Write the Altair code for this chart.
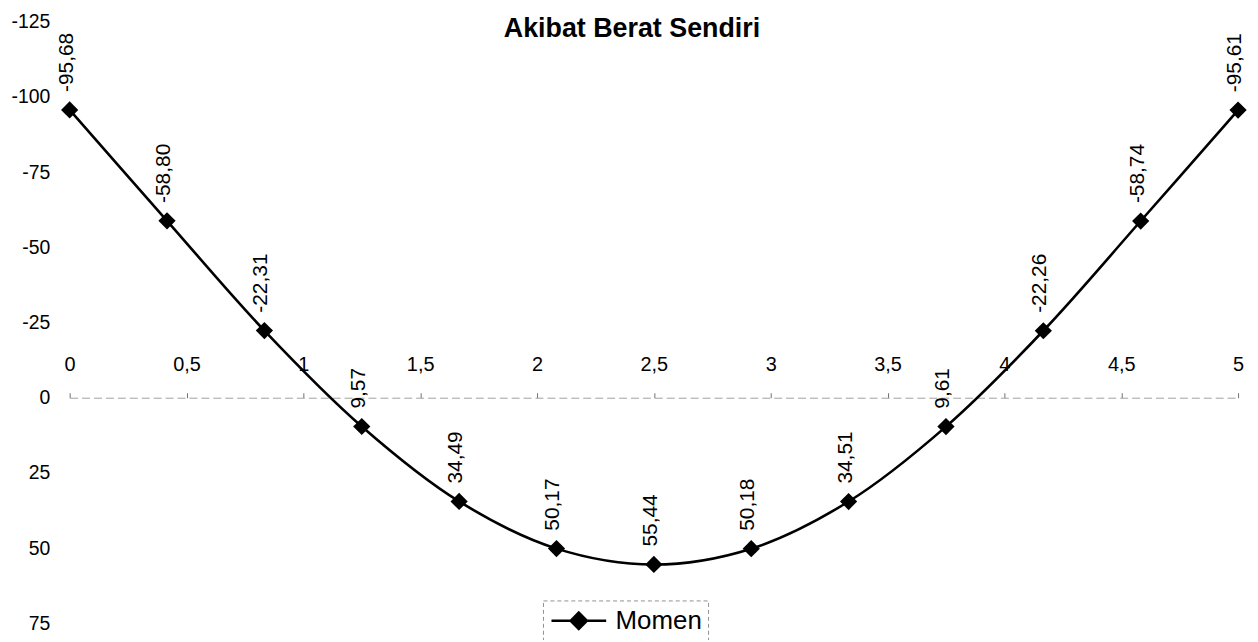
import altair as alt
import pandas as pd

# data
positions = [0, 5/12, 10/12, 15/12, 20/12, 25/12, 30/12, 35/12, 40/12, 45/12, 50/12, 55/12, 5]
momen = [-95.68, -58.80, -22.31, 9.57, 34.49, 50.17, 55.44, 50.18, 34.51, 9.61, -22.26, -58.74, -95.61]
series_name = "Momen"
x_ticks = [0, 0.5, 1, 1.5, 2, 2.5, 3, 3.5, 4, 4.5, 5]
y_ticks = [-125, -100, -75, -50, -25, 0, 25, 50, 75]

df = pd.DataFrame({"x": positions, "m": momen, "s": series_name})

FONT = "Liberation Sans"
W, H = 1175, 605

xscale = alt.Scale(domain=[0, 5], nice=False, zero=False)
yscale = alt.Scale(domain=[-125, 75], reverse=True, nice=False, zero=False)

x_enc = alt.X(
    "x:Q",
    scale=xscale,
    axis=alt.Axis(
        orient="top",
        offset=-(125 / 200) * H,
        values=x_ticks,
        labelExpr="replace(toString(datum.value), '.', ',')",
        title=None,
        grid=False,
        domainColor="#a0a0a0",
        domainDash=[8, 4],
        domainWidth=1,
        tickColor="#707070",
        tickSize=5,
        labelPadding=18,
        labelFont=FONT,
        labelFontSize=20,
        labelColor="black",
        labelAngle=0,
        labelFlush=False,
        labelOverlap=False,
    ),
)
y_enc = alt.Y(
    "m:Q",
    scale=yscale,
    axis=alt.Axis(
        values=y_ticks,
        labelExpr="toString(datum.value)",
        title=None,
        grid=False,
        domain=False,
        ticks=False,
        labelPadding=20,
        labelFont=FONT,
        labelFontSize=19.5,
        labelColor="black",
        labelOverlap=False,
    ),
)

base = alt.Chart(df)

line = base.mark_line(
    color="black", strokeWidth=2.6, interpolate="catmull-rom"
).encode(x=x_enc, y=y_enc)

legend_symbol = "M-0.92,0L0.56,0M1.82,0L3.31,0M0.56,0L1.19,-0.63L1.82,0L1.19,0.63Z"

points = base.mark_point(
    shape="diamond", filled=True, size=300, opacity=1
).encode(
    x=x_enc,
    y=y_enc,
    color=alt.Color(
        "s:N",
        scale=alt.Scale(range=["black"]),
        legend=alt.Legend(
            title=None,
            orient="none",
            legendX=476,
            legendY=582,
            symbolType=legend_symbol,
            symbolSize=676,
            symbolStrokeColor="black",
            symbolFillColor="black",
            symbolStrokeWidth=2.6,
            labelFont=FONT,
            labelFontSize=26,
            labelColor="black",
            labelOffset=38,
            padding=6,
            strokeColor="#909090",
            fillColor="white",
        ),
    ),
)

labels = base.transform_calculate(
    lab="(datum.m < 0 ? '-' : '') + replace(format(abs(datum.m), '.2f'), '.', ',')"
).mark_text(
    angle=270, align="left", baseline="middle", dx=18, dy=-3, font=FONT, fontSize=21, color="black"
).encode(x=x_enc, y=y_enc, text="lab:N")

chart = (
    alt.layer(line, points, labels)
    .properties(
        width=W,
        height=H,
        padding={"left": 62, "top": 12, "right": 12, "bottom": 15},
        autosize=alt.AutoSizeParams(type="none"),
        title=alt.TitleParams(
            text="Akibat Berat Sendiri",
            font=FONT,
            fontSize=27,
            fontWeight="bold",
            color="black",
            anchor="middle",
            offset=-31,
            dx=-22,
        ),
    )
    .configure_view(stroke=None)
    .configure_legend(strokeDash=[4, 3])
)

chart.save("out.html", embed_options={"renderer": "svg", "actions": False})
